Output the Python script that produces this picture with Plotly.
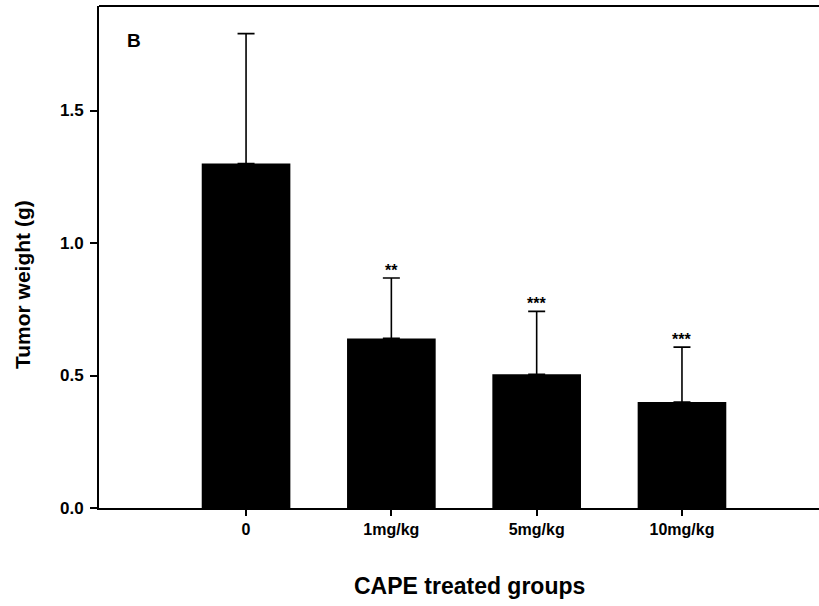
import plotly.graph_objects as go

categories = ["0", "1mg/kg", "5mg/kg", "10mg/kg"]
weights = [1.30, 0.64, 0.505, 0.40]
errors = [0.49, 0.228, 0.237, 0.207]
stars = ["", "**", "***", "***"]
yticks = [0.0, 0.5, 1.0, 1.5]

W, H = 819, 606
L, R, T, B = 99, 0, 6, 98
pw, ph = W - L - R, H - T - B

xpos = list(range(len(categories)))

fig = go.Figure()
fig.add_trace(go.Bar(
    x=xpos, y=weights, width=0.61,
    marker=dict(color="black", line=dict(width=0)),
    error_y=dict(type="data", symmetric=False, array=errors,
                 arrayminus=[0] * len(errors),
                 color="black", thickness=1.6, width=8.5),
    showlegend=False,
))

font = "Liberation Sans, Arial, sans-serif"

for xi, w, e, s in zip(xpos, weights, errors, stars):
    if s:
        fig.add_annotation(x=xi, y=w + e, text=s, showarrow=False,
                           yanchor="bottom", xanchor="center", yshift=-3,
                           font=dict(family=font, size=16, color="black", weight="bold"))

def px_x(p):
    return (p - L) / pw

def px_y(p):
    return (H - B - p) / ph

fig.add_shape(type="line", xref="paper", yref="paper", x0=0, x1=1, y0=1, y1=1,
              line=dict(color="black", width=1.8))

fig.add_annotation(xref="paper", yref="paper", x=px_x(134), y=px_y(40),
                   text="B", showarrow=False, xanchor="center", yanchor="middle",
                   font=dict(family=font, size=19, color="black", weight="bold"))
fig.add_annotation(xref="paper", yref="paper", x=px_x(22), y=px_y(285),
                   text="Tumor weight (g)", showarrow=False, textangle=-90,
                   xanchor="center", yanchor="middle",
                   font=dict(family=font, size=21, color="black", weight="bold"))
fig.add_annotation(xref="paper", yref="paper", x=px_x(470), y=px_y(586),
                   text="CAPE treated groups", showarrow=False,
                   xanchor="center", yanchor="middle",
                   font=dict(family=font, size=23, color="black", weight="bold"))

fig.update_layout(
    width=W, height=H,
    margin=dict(l=L, r=R, t=T, b=B),
    paper_bgcolor="white", plot_bgcolor="white",
    font=dict(family=font, color="black"),
    xaxis=dict(range=[-1.012, 3.943], tickmode="array", tickvals=xpos,
               ticktext=categories, ticks="outside", ticklen=6, tickwidth=1.5,
               tickcolor="black", showline=True, linecolor="black", linewidth=1.8,
               showgrid=False, zeroline=False,
               tickfont=dict(family=font, size=16, color="black", weight="bold")),
    yaxis=dict(range=[0, ph / 265.0], tickmode="array", tickvals=yticks,
               ticktext=[f"{v:.1f}" for v in yticks], ticks="outside", ticklen=7,
               tickwidth=1.5, tickcolor="black", showline=True, linecolor="black",
               linewidth=1.8, showgrid=False, zeroline=False, ticklabelstandoff=3,
               tickfont=dict(family=font, size=17, color="black", weight="bold")),
)

fig.write_html("out.html")
